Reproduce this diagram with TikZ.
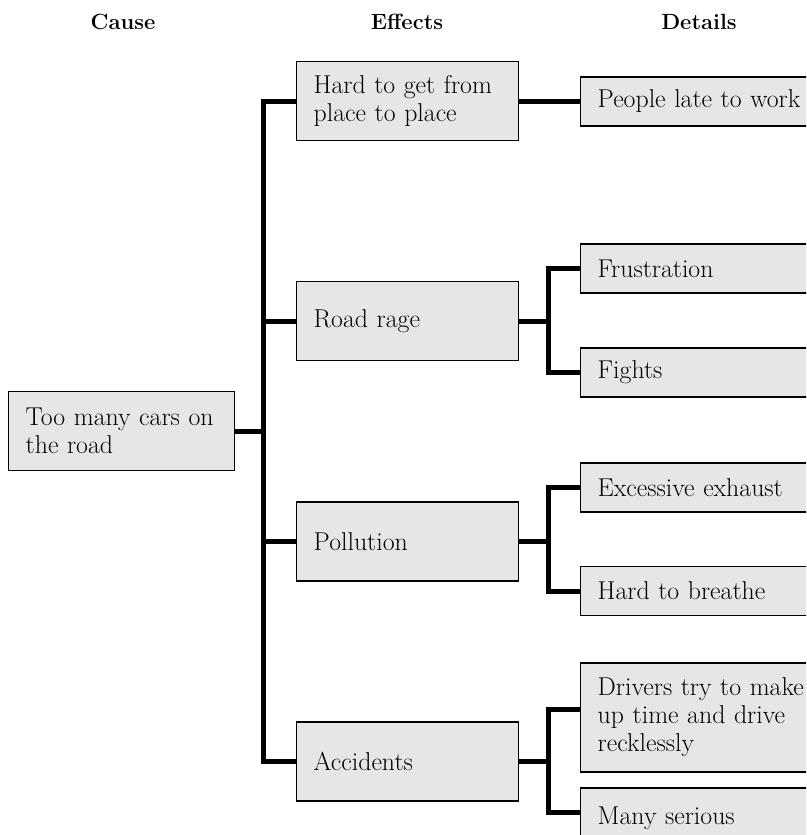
\documentclass[tikz,border=0pt]{standalone}
\usepackage{fontspec}
\definecolor{boxfill}{RGB}{230,230,230}
\begin{document}
\begin{tikzpicture}[x=1pt,y=-1pt,
  box/.style={draw=black, line width=1.4pt, fill=boxfill, rectangle,
    inner xsep=17pt, inner ysep=0pt, align=left, anchor=west,
    font=\fontsize{25.8}{28}\selectfont},
  causebox/.style={box, inner xsep=15pt, text width=196pt, minimum height=79pt},
  effectbox/.style={box, text width=188pt, minimum height=79pt},
  detailbox/.style={box, text width=216pt, minimum height=49pt},
  header/.style={anchor=base, font=\fontsize{22}{26}\selectfont\bfseries},
  conn/.style={line width=5pt, black}]
\useasboundingbox (0,0) rectangle (806,835);
\clip (0,0) rectangle (806,835);

% column headings
\node[header] (hcause)  at (123,29) {Cause};
\node[header] (heffect) at (407,29) {Effects};
\node[header] (hdetail) at (699,29) {Details};

% cause
\node[causebox] (cause) at (8,431) {\hspace{2pt}Too many cars on\\\hspace{2pt}the road};

% effects
\node[effectbox] (e1) at (296,101)   {Hard to get from\\place to place};
\node[effectbox] (e2) at (296,321)   {Road rage};
\node[effectbox] (e3) at (296,541.5) {Pollution};
\node[effectbox] (e4) at (296,761.5) {Accidents};

% details
\node[detailbox] (d1) at (580,101.5) {People late to work};
\node[detailbox] (d2) at (580,268.5) {Frustration};
\node[detailbox] (d3) at (580,372.5) {Fights};
\node[detailbox] (d4) at (580,487.5) {Excessive exhaust};
\node[detailbox] (d5) at (580,591)   {Hard to breathe};
\node[detailbox, minimum height=109pt] (d6) at (580,717.5)
  {Drivers try to make\\up time and drive\\recklessly};
\node[detailbox, minimum height=60pt] (d7) at (580,818) {Many serious};

% trunk and branch positions
\coordinate (tk) at (263,0);
\coordinate (br) at (548,0);

% cause to effects
\draw[conn] (cause.east) -- (cause.east -| tk);
\draw[conn] (e1.west) -- (e1.west -| tk) -- (e4.west -| tk) -- (e4.west);
\draw[conn] (e2.west -| tk) -- (e2.west);
\draw[conn] (e3.west -| tk) -- (e3.west);

% effects to details
\draw[conn] (e1.east) -- (e1.east -| d1.west);
\draw[conn] (e2.east) -- (e2.east -| br);
\draw[conn] (d2.west) -- (d2.west -| br) -- (d3.west -| br) -- (d3.west);
\draw[conn] (e3.east) -- (e3.east -| br);
\draw[conn] (d4.west) -- (d4.west -| br) -- (d5.west -| br) -- (d5.west);
\draw[conn] (e4.east) -- (e4.east -| br);
\draw[conn] ([yshift=8.5pt]d6.west) -- ([yshift=8.5pt]d6.west -| br)
  -- ([yshift=6pt]d7.west -| br) -- ([yshift=6pt]d7.west);
\end{tikzpicture}
\end{document}
